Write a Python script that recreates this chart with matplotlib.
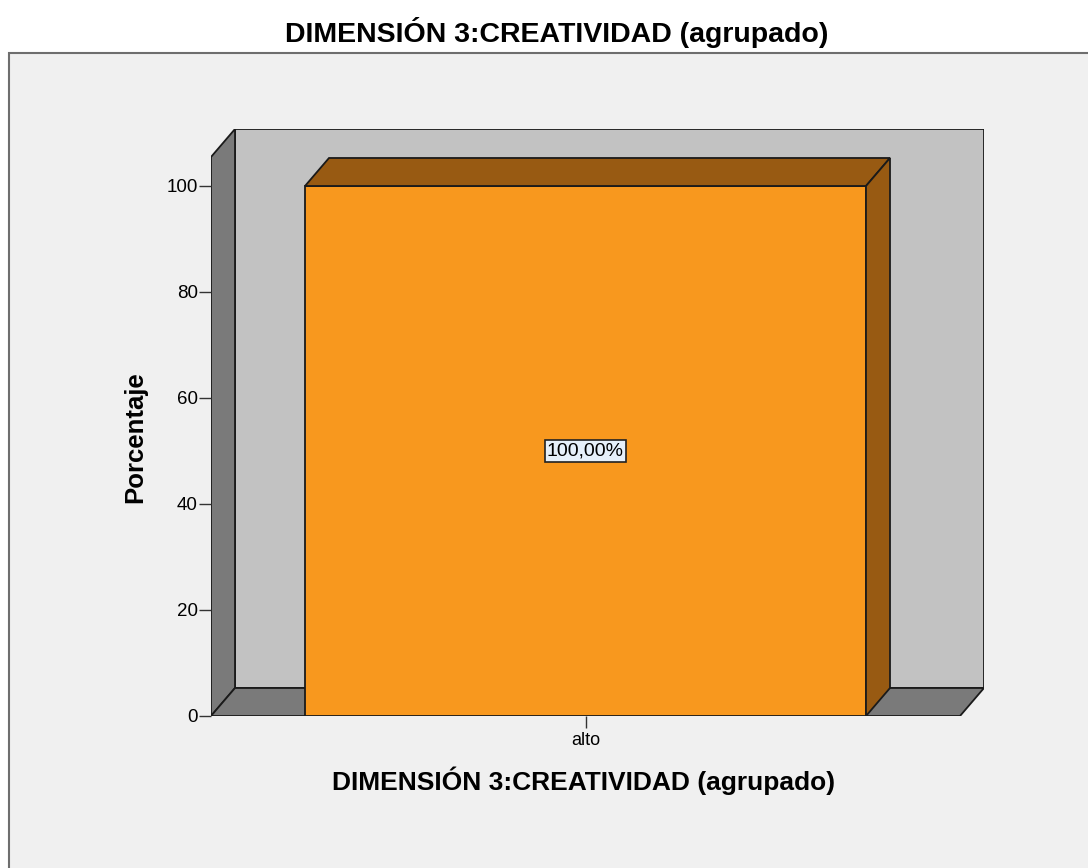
import matplotlib
matplotlib.use("Agg")
import matplotlib.pyplot as plt
from matplotlib.patches import Polygon, Rectangle

plt.rcParams['font.family'] = ['Liberation Sans', 'DejaVu Sans']

categories = ["alto"]
percentages = [100.0]
value_labels = ["100,00%"]
y_ticks = [0, 20, 40, 60, 80, 100]
title = "DIMENSIÓN 3:CREATIVIDAD (agrupado)"
y_label = "Porcentaje"

W, H = 1088, 868
fig = plt.figure(figsize=(W / 100, H / 100), dpi=100)
fig.patch.set_facecolor("white")

# outer chart frame (runs off right and bottom edges)
fig.patches.append(Rectangle((9 / W, -0.05), 1.1, (H - 53) / H + 0.05,
                             transform=fig.transFigure, facecolor="#F0F0F0",
                             edgecolor="#6E6E6E", linewidth=1.5, zorder=-5))

fig.text(557 / W, 1 - 33 / H, title, ha="center", va="center",
         fontsize=20.5, fontweight="bold")

# axes: front plane x -0.5..0.5, depth dx/dy
dx = 24 / 749
dy = 28 / 5.3
ax = fig.add_axes([211 / W, 1 - 716 / H, (984 - 211) / W, (716 - 129) / H])
ax.set_xlim(-0.5, 0.5 + dx)
ax.set_ylim(0, 100 + dy + 5.47)
ax.patch.set_visible(False)
for s in ax.spines.values():
    s.set_visible(False)

top = ax.get_ylim()[1] - dy
x0, x1 = -0.5, 0.5
ec = "#1A1A1A"
lw = 1.3

# back wall
ax.add_patch(Polygon([(x0 + dx, dy), (x1 + dx, dy), (x1 + dx, top + dy), (x0 + dx, top + dy)],
                     closed=True, facecolor="#C2C2C2", edgecolor=ec, linewidth=lw))
# left wall
ax.add_patch(Polygon([(x0, 0), (x0 + dx, dy), (x0 + dx, top + dy), (x0, top)],
                     closed=True, facecolor="#7A7A7A", edgecolor=ec, linewidth=lw))
# floor
ax.add_patch(Polygon([(x0, 0), (x0 + dx, dy), (x1 + dx, dy), (x1, 0)],
                     closed=True, facecolor="#7A7A7A", edgecolor=ec, linewidth=lw))

bw = 561 / 749
for i, (cat, val, lab) in enumerate(zip(categories, percentages, value_labels)):
    bl, br = i - bw / 2, i + bw / 2
    ax.bar(i, val, width=bw, color="#F8981E", edgecolor=ec, linewidth=lw, zorder=3)
    ax.add_patch(Polygon([(bl, val), (bl + dx, val + dy), (br + dx, val + dy), (br, val)],
                         closed=True, facecolor="#985A12", edgecolor=ec, linewidth=lw, zorder=3))
    ax.add_patch(Polygon([(br, 0), (br + dx, dy), (br + dx, val + dy), (br, val)],
                         closed=True, facecolor="#985A12", edgecolor=ec, linewidth=lw, zorder=3))
    ax.text(i, val / 2, lab, ha="center", va="center", fontsize=14, zorder=5,
            bbox=dict(boxstyle="square,pad=0.12", facecolor="#E6F0FA", edgecolor="#222222", linewidth=1.2))

ax.set_yticks(y_ticks)
ax.set_yticklabels([str(t) for t in y_ticks], fontsize=13.5)
ax.set_xticks(range(len(categories)))
ax.set_xticklabels(categories, fontsize=13)
ax.tick_params(axis="y", length=8.5, width=1, color="#333333", pad=1)
ax.tick_params(axis="x", length=8.5, width=1, color="#333333", pad=3)

ax.set_ylabel(y_label, fontsize=18.5, fontweight="bold")
ax.yaxis.set_label_coords((135 - 211) / 773, (716 - 437.5) / 587)
ax.yaxis.label.set_va("center")
fig.text(584 / W, 1 - 781 / H, title, ha="center", va="center",
         fontsize=19, fontweight="bold")

fig.savefig("out.png", dpi=100)
